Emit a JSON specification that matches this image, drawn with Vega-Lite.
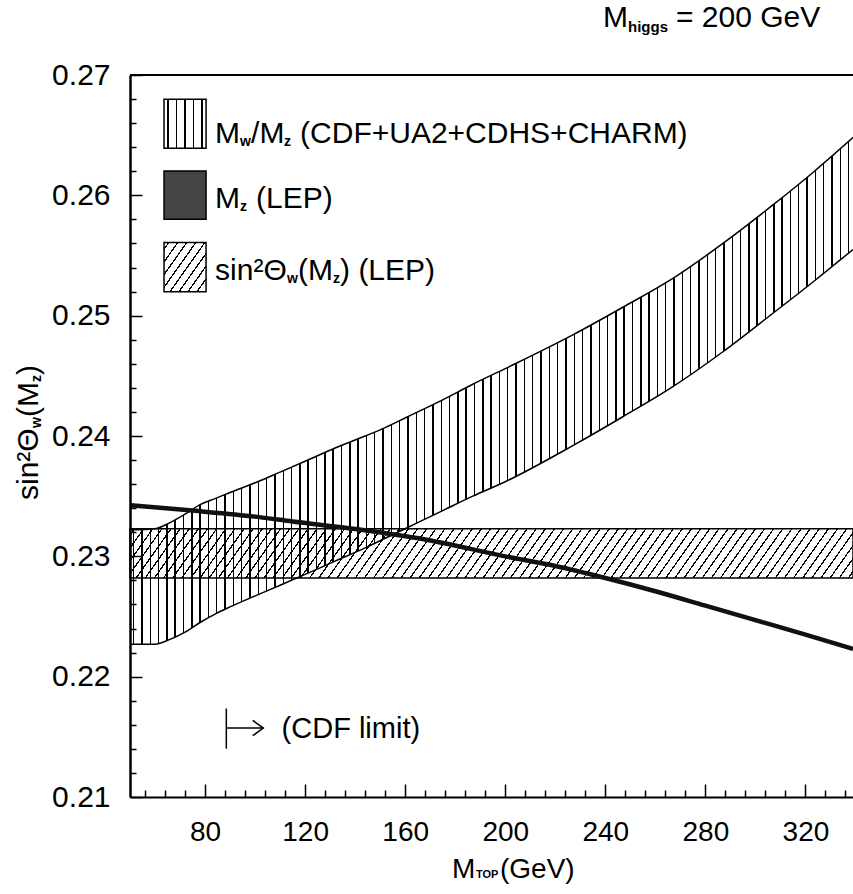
{
"$schema": "https://vega.github.io/schema/vega-lite/v6.json",
"usermeta": {"embedOptions": {"actions": false}},
"width": 723,
"height": 722,
"autosize": {"type": "none"},
"padding": {"left": 130, "top": 75, "right": 0, "bottom": 97},
"background": "white",
"config": {"view": {"stroke": null}, "font": "Liberation Sans"},
"resolve": {"axis": {"x": "independent", "y": "independent"}},
"data": {"values": [{}]},
"datasets": {
"mw": [
{"m":50,"lo":0.2227,"hi":0.2322},{"m":60,"lo":0.2227,"hi":0.2323},{"m":66,"lo":0.2231,"hi":0.2328},{"m":72,"lo":0.2237,"hi":0.2335},{"m":78,"lo":0.2245,"hi":0.2343},{"m":84,"lo":0.2252,"hi":0.2348},{"m":90,"lo":0.2258,"hi":0.2353},{"m":101,"lo":0.2268,"hi":0.2362},{"m":110,"lo":0.2276,"hi":0.2370},{"m":120,"lo":0.2285,"hi":0.2379},{"m":132,"lo":0.2296,"hi":0.2390},{"m":144,"lo":0.2307,"hi":0.2400},{"m":152,"lo":0.2315,"hi":0.2407},{"m":161,"lo":0.2324,"hi":0.2416},{"m":175,"lo":0.2338,"hi":0.2430},{"m":187,"lo":0.2350,"hi":0.2443},{"m":200,"lo":0.2362,"hi":0.2456},{"m":227,"lo":0.2392,"hi":0.2484},{"m":247,"lo":0.2416,"hi":0.2507},{"m":267,"lo":0.2441,"hi":0.2531},{"m":287,"lo":0.2470,"hi":0.2560},{"m":307,"lo":0.2502,"hi":0.2592},{"m":323,"lo":0.2528,"hi":0.2619},{"m":339,"lo":0.2555,"hi":0.2648}
],
"mz": [
{"m":50,"s":0.23425},{"m":75,"s":0.2338},{"m":100,"s":0.2333},{"m":115,"s":0.2329},{"m":141,"s":0.23225},{"m":168,"s":0.2314},{"m":200,"s":0.2300},{"m":220,"s":0.2292},{"m":240,"s":0.2282},{"m":260,"s":0.2271},{"m":280,"s":0.2259},{"m":300,"s":0.2247},{"m":320,"s":0.2235},{"m":339,"s":0.2223}
]
},
"layer": [
{
"data": {"values": [{"m0":50,"m1":339,"lo":0.2282,"hi":0.2323}]},
"mark": {"type":"rect","stroke":"black","strokeWidth":1.5,"fill":{"gradient":"linear","x1":0,"y1":0,"x2":1.05,"y2":0.0508,"stops":[
{"offset":0.005,"color":"rgba(0,0,0,0)"},{"offset":0.005,"color":"#000"},{"offset":0.007,"color":"#000"},{"offset":0.007,"color":"rgba(0,0,0,0)"},
{"offset":0.017,"color":"rgba(0,0,0,0)"},{"offset":0.017,"color":"#000"},{"offset":0.019,"color":"#000"},{"offset":0.019,"color":"rgba(0,0,0,0)"},
{"offset":0.029,"color":"rgba(0,0,0,0)"},{"offset":0.029,"color":"#000"},{"offset":0.031,"color":"#000"},{"offset":0.031,"color":"rgba(0,0,0,0)"},
{"offset":0.041,"color":"rgba(0,0,0,0)"},{"offset":0.041,"color":"#000"},{"offset":0.043,"color":"#000"},{"offset":0.043,"color":"rgba(0,0,0,0)"},
{"offset":0.053,"color":"rgba(0,0,0,0)"},{"offset":0.053,"color":"#000"},{"offset":0.055,"color":"#000"},{"offset":0.055,"color":"rgba(0,0,0,0)"},
{"offset":0.065,"color":"rgba(0,0,0,0)"},{"offset":0.065,"color":"#000"},{"offset":0.067,"color":"#000"},{"offset":0.067,"color":"rgba(0,0,0,0)"},
{"offset":0.077,"color":"rgba(0,0,0,0)"},{"offset":0.077,"color":"#000"},{"offset":0.079,"color":"#000"},{"offset":0.079,"color":"rgba(0,0,0,0)"},
{"offset":0.089,"color":"rgba(0,0,0,0)"},{"offset":0.089,"color":"#000"},{"offset":0.091,"color":"#000"},{"offset":0.091,"color":"rgba(0,0,0,0)"},
{"offset":0.101,"color":"rgba(0,0,0,0)"},{"offset":0.101,"color":"#000"},{"offset":0.103,"color":"#000"},{"offset":0.103,"color":"rgba(0,0,0,0)"},
{"offset":0.113,"color":"rgba(0,0,0,0)"},{"offset":0.113,"color":"#000"},{"offset":0.115,"color":"#000"},{"offset":0.115,"color":"rgba(0,0,0,0)"},
{"offset":0.125,"color":"rgba(0,0,0,0)"},{"offset":0.125,"color":"#000"},{"offset":0.127,"color":"#000"},{"offset":0.127,"color":"rgba(0,0,0,0)"},
{"offset":0.137,"color":"rgba(0,0,0,0)"},{"offset":0.137,"color":"#000"},{"offset":0.139,"color":"#000"},{"offset":0.139,"color":"rgba(0,0,0,0)"},
{"offset":0.149,"color":"rgba(0,0,0,0)"},{"offset":0.149,"color":"#000"},{"offset":0.151,"color":"#000"},{"offset":0.151,"color":"rgba(0,0,0,0)"},
{"offset":0.161,"color":"rgba(0,0,0,0)"},{"offset":0.161,"color":"#000"},{"offset":0.163,"color":"#000"},{"offset":0.163,"color":"rgba(0,0,0,0)"},
{"offset":0.173,"color":"rgba(0,0,0,0)"},{"offset":0.173,"color":"#000"},{"offset":0.175,"color":"#000"},{"offset":0.175,"color":"rgba(0,0,0,0)"},
{"offset":0.185,"color":"rgba(0,0,0,0)"},{"offset":0.185,"color":"#000"},{"offset":0.187,"color":"#000"},{"offset":0.187,"color":"rgba(0,0,0,0)"},
{"offset":0.197,"color":"rgba(0,0,0,0)"},{"offset":0.197,"color":"#000"},{"offset":0.199,"color":"#000"},{"offset":0.199,"color":"rgba(0,0,0,0)"},
{"offset":0.209,"color":"rgba(0,0,0,0)"},{"offset":0.209,"color":"#000"},{"offset":0.211,"color":"#000"},{"offset":0.211,"color":"rgba(0,0,0,0)"},
{"offset":0.221,"color":"rgba(0,0,0,0)"},{"offset":0.221,"color":"#000"},{"offset":0.223,"color":"#000"},{"offset":0.223,"color":"rgba(0,0,0,0)"},
{"offset":0.233,"color":"rgba(0,0,0,0)"},{"offset":0.233,"color":"#000"},{"offset":0.235,"color":"#000"},{"offset":0.235,"color":"rgba(0,0,0,0)"},
{"offset":0.245,"color":"rgba(0,0,0,0)"},{"offset":0.245,"color":"#000"},{"offset":0.247,"color":"#000"},{"offset":0.247,"color":"rgba(0,0,0,0)"},
{"offset":0.257,"color":"rgba(0,0,0,0)"},{"offset":0.257,"color":"#000"},{"offset":0.259,"color":"#000"},{"offset":0.259,"color":"rgba(0,0,0,0)"},
{"offset":0.269,"color":"rgba(0,0,0,0)"},{"offset":0.269,"color":"#000"},{"offset":0.271,"color":"#000"},{"offset":0.271,"color":"rgba(0,0,0,0)"},
{"offset":0.281,"color":"rgba(0,0,0,0)"},{"offset":0.281,"color":"#000"},{"offset":0.283,"color":"#000"},{"offset":0.283,"color":"rgba(0,0,0,0)"},
{"offset":0.293,"color":"rgba(0,0,0,0)"},{"offset":0.293,"color":"#000"},{"offset":0.295,"color":"#000"},{"offset":0.295,"color":"rgba(0,0,0,0)"},
{"offset":0.305,"color":"rgba(0,0,0,0)"},{"offset":0.305,"color":"#000"},{"offset":0.307,"color":"#000"},{"offset":0.307,"color":"rgba(0,0,0,0)"},
{"offset":0.317,"color":"rgba(0,0,0,0)"},{"offset":0.317,"color":"#000"},{"offset":0.319,"color":"#000"},{"offset":0.319,"color":"rgba(0,0,0,0)"},
{"offset":0.329,"color":"rgba(0,0,0,0)"},{"offset":0.329,"color":"#000"},{"offset":0.331,"color":"#000"},{"offset":0.331,"color":"rgba(0,0,0,0)"},
{"offset":0.341,"color":"rgba(0,0,0,0)"},{"offset":0.341,"color":"#000"},{"offset":0.343,"color":"#000"},{"offset":0.343,"color":"rgba(0,0,0,0)"},
{"offset":0.353,"color":"rgba(0,0,0,0)"},{"offset":0.353,"color":"#000"},{"offset":0.355,"color":"#000"},{"offset":0.355,"color":"rgba(0,0,0,0)"},
{"offset":0.365,"color":"rgba(0,0,0,0)"},{"offset":0.365,"color":"#000"},{"offset":0.367,"color":"#000"},{"offset":0.367,"color":"rgba(0,0,0,0)"},
{"offset":0.377,"color":"rgba(0,0,0,0)"},{"offset":0.377,"color":"#000"},{"offset":0.379,"color":"#000"},{"offset":0.379,"color":"rgba(0,0,0,0)"},
{"offset":0.389,"color":"rgba(0,0,0,0)"},{"offset":0.389,"color":"#000"},{"offset":0.391,"color":"#000"},{"offset":0.391,"color":"rgba(0,0,0,0)"},
{"offset":0.401,"color":"rgba(0,0,0,0)"},{"offset":0.401,"color":"#000"},{"offset":0.403,"color":"#000"},{"offset":0.403,"color":"rgba(0,0,0,0)"},
{"offset":0.413,"color":"rgba(0,0,0,0)"},{"offset":0.413,"color":"#000"},{"offset":0.415,"color":"#000"},{"offset":0.415,"color":"rgba(0,0,0,0)"},
{"offset":0.425,"color":"rgba(0,0,0,0)"},{"offset":0.425,"color":"#000"},{"offset":0.427,"color":"#000"},{"offset":0.427,"color":"rgba(0,0,0,0)"},
{"offset":0.437,"color":"rgba(0,0,0,0)"},{"offset":0.437,"color":"#000"},{"offset":0.439,"color":"#000"},{"offset":0.439,"color":"rgba(0,0,0,0)"},
{"offset":0.449,"color":"rgba(0,0,0,0)"},{"offset":0.449,"color":"#000"},{"offset":0.451,"color":"#000"},{"offset":0.451,"color":"rgba(0,0,0,0)"},
{"offset":0.461,"color":"rgba(0,0,0,0)"},{"offset":0.461,"color":"#000"},{"offset":0.463,"color":"#000"},{"offset":0.463,"color":"rgba(0,0,0,0)"},
{"offset":0.473,"color":"rgba(0,0,0,0)"},{"offset":0.473,"color":"#000"},{"offset":0.475,"color":"#000"},{"offset":0.475,"color":"rgba(0,0,0,0)"},
{"offset":0.485,"color":"rgba(0,0,0,0)"},{"offset":0.485,"color":"#000"},{"offset":0.487,"color":"#000"},{"offset":0.487,"color":"rgba(0,0,0,0)"},
{"offset":0.497,"color":"rgba(0,0,0,0)"},{"offset":0.497,"color":"#000"},{"offset":0.499,"color":"#000"},{"offset":0.499,"color":"rgba(0,0,0,0)"},
{"offset":0.509,"color":"rgba(0,0,0,0)"},{"offset":0.509,"color":"#000"},{"offset":0.511,"color":"#000"},{"offset":0.511,"color":"rgba(0,0,0,0)"},
{"offset":0.521,"color":"rgba(0,0,0,0)"},{"offset":0.521,"color":"#000"},{"offset":0.523,"color":"#000"},{"offset":0.523,"color":"rgba(0,0,0,0)"},
{"offset":0.533,"color":"rgba(0,0,0,0)"},{"offset":0.533,"color":"#000"},{"offset":0.535,"color":"#000"},{"offset":0.535,"color":"rgba(0,0,0,0)"},
{"offset":0.545,"color":"rgba(0,0,0,0)"},{"offset":0.545,"color":"#000"},{"offset":0.547,"color":"#000"},{"offset":0.547,"color":"rgba(0,0,0,0)"},
{"offset":0.557,"color":"rgba(0,0,0,0)"},{"offset":0.557,"color":"#000"},{"offset":0.559,"color":"#000"},{"offset":0.559,"color":"rgba(0,0,0,0)"},
{"offset":0.569,"color":"rgba(0,0,0,0)"},{"offset":0.569,"color":"#000"},{"offset":0.571,"color":"#000"},{"offset":0.571,"color":"rgba(0,0,0,0)"},
{"offset":0.581,"color":"rgba(0,0,0,0)"},{"offset":0.581,"color":"#000"},{"offset":0.583,"color":"#000"},{"offset":0.583,"color":"rgba(0,0,0,0)"},
{"offset":0.593,"color":"rgba(0,0,0,0)"},{"offset":0.593,"color":"#000"},{"offset":0.595,"color":"#000"},{"offset":0.595,"color":"rgba(0,0,0,0)"},
{"offset":0.605,"color":"rgba(0,0,0,0)"},{"offset":0.605,"color":"#000"},{"offset":0.607,"color":"#000"},{"offset":0.607,"color":"rgba(0,0,0,0)"},
{"offset":0.617,"color":"rgba(0,0,0,0)"},{"offset":0.617,"color":"#000"},{"offset":0.619,"color":"#000"},{"offset":0.619,"color":"rgba(0,0,0,0)"},
{"offset":0.629,"color":"rgba(0,0,0,0)"},{"offset":0.629,"color":"#000"},{"offset":0.631,"color":"#000"},{"offset":0.631,"color":"rgba(0,0,0,0)"},
{"offset":0.641,"color":"rgba(0,0,0,0)"},{"offset":0.641,"color":"#000"},{"offset":0.643,"color":"#000"},{"offset":0.643,"color":"rgba(0,0,0,0)"},
{"offset":0.653,"color":"rgba(0,0,0,0)"},{"offset":0.653,"color":"#000"},{"offset":0.655,"color":"#000"},{"offset":0.655,"color":"rgba(0,0,0,0)"},
{"offset":0.665,"color":"rgba(0,0,0,0)"},{"offset":0.665,"color":"#000"},{"offset":0.667,"color":"#000"},{"offset":0.667,"color":"rgba(0,0,0,0)"},
{"offset":0.677,"color":"rgba(0,0,0,0)"},{"offset":0.677,"color":"#000"},{"offset":0.679,"color":"#000"},{"offset":0.679,"color":"rgba(0,0,0,0)"},
{"offset":0.689,"color":"rgba(0,0,0,0)"},{"offset":0.689,"color":"#000"},{"offset":0.691,"color":"#000"},{"offset":0.691,"color":"rgba(0,0,0,0)"},
{"offset":0.701,"color":"rgba(0,0,0,0)"},{"offset":0.701,"color":"#000"},{"offset":0.703,"color":"#000"},{"offset":0.703,"color":"rgba(0,0,0,0)"},
{"offset":0.713,"color":"rgba(0,0,0,0)"},{"offset":0.713,"color":"#000"},{"offset":0.715,"color":"#000"},{"offset":0.715,"color":"rgba(0,0,0,0)"},
{"offset":0.725,"color":"rgba(0,0,0,0)"},{"offset":0.725,"color":"#000"},{"offset":0.727,"color":"#000"},{"offset":0.727,"color":"rgba(0,0,0,0)"},
{"offset":0.737,"color":"rgba(0,0,0,0)"},{"offset":0.737,"color":"#000"},{"offset":0.739,"color":"#000"},{"offset":0.739,"color":"rgba(0,0,0,0)"},
{"offset":0.749,"color":"rgba(0,0,0,0)"},{"offset":0.749,"color":"#000"},{"offset":0.751,"color":"#000"},{"offset":0.751,"color":"rgba(0,0,0,0)"},
{"offset":0.761,"color":"rgba(0,0,0,0)"},{"offset":0.761,"color":"#000"},{"offset":0.763,"color":"#000"},{"offset":0.763,"color":"rgba(0,0,0,0)"},
{"offset":0.773,"color":"rgba(0,0,0,0)"},{"offset":0.773,"color":"#000"},{"offset":0.775,"color":"#000"},{"offset":0.775,"color":"rgba(0,0,0,0)"},
{"offset":0.785,"color":"rgba(0,0,0,0)"},{"offset":0.785,"color":"#000"},{"offset":0.787,"color":"#000"},{"offset":0.787,"color":"rgba(0,0,0,0)"},
{"offset":0.797,"color":"rgba(0,0,0,0)"},{"offset":0.797,"color":"#000"},{"offset":0.799,"color":"#000"},{"offset":0.799,"color":"rgba(0,0,0,0)"},
{"offset":0.809,"color":"rgba(0,0,0,0)"},{"offset":0.809,"color":"#000"},{"offset":0.811,"color":"#000"},{"offset":0.811,"color":"rgba(0,0,0,0)"},
{"offset":0.821,"color":"rgba(0,0,0,0)"},{"offset":0.821,"color":"#000"},{"offset":0.823,"color":"#000"},{"offset":0.823,"color":"rgba(0,0,0,0)"},
{"offset":0.833,"color":"rgba(0,0,0,0)"},{"offset":0.833,"color":"#000"},{"offset":0.835,"color":"#000"},{"offset":0.835,"color":"rgba(0,0,0,0)"},
{"offset":0.845,"color":"rgba(0,0,0,0)"},{"offset":0.845,"color":"#000"},{"offset":0.847,"color":"#000"},{"offset":0.847,"color":"rgba(0,0,0,0)"},
{"offset":0.857,"color":"rgba(0,0,0,0)"},{"offset":0.857,"color":"#000"},{"offset":0.859,"color":"#000"},{"offset":0.859,"color":"rgba(0,0,0,0)"},
{"offset":0.869,"color":"rgba(0,0,0,0)"},{"offset":0.869,"color":"#000"},{"offset":0.871,"color":"#000"},{"offset":0.871,"color":"rgba(0,0,0,0)"},
{"offset":0.881,"color":"rgba(0,0,0,0)"},{"offset":0.881,"color":"#000"},{"offset":0.883,"color":"#000"},{"offset":0.883,"color":"rgba(0,0,0,0)"},
{"offset":0.893,"color":"rgba(0,0,0,0)"},{"offset":0.893,"color":"#000"},{"offset":0.895,"color":"#000"},{"offset":0.895,"color":"rgba(0,0,0,0)"},
{"offset":0.905,"color":"rgba(0,0,0,0)"},{"offset":0.905,"color":"#000"},{"offset":0.907,"color":"#000"},{"offset":0.907,"color":"rgba(0,0,0,0)"},
{"offset":0.917,"color":"rgba(0,0,0,0)"},{"offset":0.917,"color":"#000"},{"offset":0.919,"color":"#000"},{"offset":0.919,"color":"rgba(0,0,0,0)"},
{"offset":0.929,"color":"rgba(0,0,0,0)"},{"offset":0.929,"color":"#000"},{"offset":0.931,"color":"#000"},{"offset":0.931,"color":"rgba(0,0,0,0)"},
{"offset":0.941,"color":"rgba(0,0,0,0)"},{"offset":0.941,"color":"#000"},{"offset":0.943,"color":"#000"},{"offset":0.943,"color":"rgba(0,0,0,0)"},
{"offset":0.953,"color":"rgba(0,0,0,0)"},{"offset":0.953,"color":"#000"},{"offset":0.955,"color":"#000"},{"offset":0.955,"color":"rgba(0,0,0,0)"},
{"offset":0.965,"color":"rgba(0,0,0,0)"},{"offset":0.965,"color":"#000"},{"offset":0.967,"color":"#000"},{"offset":0.967,"color":"rgba(0,0,0,0)"},
{"offset":0.977,"color":"rgba(0,0,0,0)"},{"offset":0.977,"color":"#000"},{"offset":0.979,"color":"#000"},{"offset":0.979,"color":"rgba(0,0,0,0)"},
{"offset":0.989,"color":"rgba(0,0,0,0)"},{"offset":0.989,"color":"#000"},{"offset":0.991,"color":"#000"},{"offset":0.991,"color":"rgba(0,0,0,0)"}
]}},
"encoding": {
"x": {"field":"m0","type":"quantitative","scale":{"domain":[50,339],"nice":false,"zero":false},
 "axis":{"orient":"bottom","title":null,"grid":false,"zindex":1,"domainColor":"black","domainWidth":2,"ticks":false,
 "values":[80,120,160,200,240,280,320],
 "labelFont":"Liberation Sans","labelFontSize":28,"labelColor":"black","labelPadding":21,"labelOverlap":false,"labelFlush":false}},
"x2": {"field":"m1"},
"y": {"field":"lo","type":"quantitative","scale":{"domain":[0.21,0.27],"nice":false,"zero":false},
 "axis":{"orient":"left","title":null,"grid":false,"zindex":1,"domainColor":"black","domainWidth":2.5,"ticks":false,
 "values":[0.21,0.22,0.23,0.24,0.25,0.26,0.27],"format":".2f",
 "labelFont":"Liberation Sans","labelFontSize":30,"labelColor":"black","labelPadding":20,"labelOverlap":false,"labelFlush":false}},
"y2": {"field":"hi"}
}
},
{
"data": {"name":"mw"},
"mark": {"type":"area","interpolate":"monotone","fill":{"gradient":"linear","x1":0,"y1":0,"x2":1,"y2":0,"stops":[
{"offset":0.004,"color":"rgba(0,0,0,0)"},{"offset":0.004,"color":"#000"},{"offset":0.006,"color":"#000"},{"offset":0.006,"color":"rgba(0,0,0,0)"},
{"offset":0.0155,"color":"rgba(0,0,0,0)"},{"offset":0.0155,"color":"#000"},{"offset":0.0175,"color":"#000"},{"offset":0.0175,"color":"rgba(0,0,0,0)"},
{"offset":0.027,"color":"rgba(0,0,0,0)"},{"offset":0.027,"color":"#000"},{"offset":0.029,"color":"#000"},{"offset":0.029,"color":"rgba(0,0,0,0)"},
{"offset":0.0385,"color":"rgba(0,0,0,0)"},{"offset":0.0385,"color":"#000"},{"offset":0.0405,"color":"#000"},{"offset":0.0405,"color":"rgba(0,0,0,0)"},
{"offset":0.05,"color":"rgba(0,0,0,0)"},{"offset":0.05,"color":"#000"},{"offset":0.052,"color":"#000"},{"offset":0.052,"color":"rgba(0,0,0,0)"},
{"offset":0.0615,"color":"rgba(0,0,0,0)"},{"offset":0.0615,"color":"#000"},{"offset":0.0635,"color":"#000"},{"offset":0.0635,"color":"rgba(0,0,0,0)"},
{"offset":0.073,"color":"rgba(0,0,0,0)"},{"offset":0.073,"color":"#000"},{"offset":0.075,"color":"#000"},{"offset":0.075,"color":"rgba(0,0,0,0)"},
{"offset":0.0845,"color":"rgba(0,0,0,0)"},{"offset":0.0845,"color":"#000"},{"offset":0.0865,"color":"#000"},{"offset":0.0865,"color":"rgba(0,0,0,0)"},
{"offset":0.096,"color":"rgba(0,0,0,0)"},{"offset":0.096,"color":"#000"},{"offset":0.098,"color":"#000"},{"offset":0.098,"color":"rgba(0,0,0,0)"},
{"offset":0.1075,"color":"rgba(0,0,0,0)"},{"offset":0.1075,"color":"#000"},{"offset":0.1095,"color":"#000"},{"offset":0.1095,"color":"rgba(0,0,0,0)"},
{"offset":0.119,"color":"rgba(0,0,0,0)"},{"offset":0.119,"color":"#000"},{"offset":0.121,"color":"#000"},{"offset":0.121,"color":"rgba(0,0,0,0)"},
{"offset":0.1305,"color":"rgba(0,0,0,0)"},{"offset":0.1305,"color":"#000"},{"offset":0.1325,"color":"#000"},{"offset":0.1325,"color":"rgba(0,0,0,0)"},
{"offset":0.142,"color":"rgba(0,0,0,0)"},{"offset":0.142,"color":"#000"},{"offset":0.144,"color":"#000"},{"offset":0.144,"color":"rgba(0,0,0,0)"},
{"offset":0.1535,"color":"rgba(0,0,0,0)"},{"offset":0.1535,"color":"#000"},{"offset":0.1555,"color":"#000"},{"offset":0.1555,"color":"rgba(0,0,0,0)"},
{"offset":0.165,"color":"rgba(0,0,0,0)"},{"offset":0.165,"color":"#000"},{"offset":0.167,"color":"#000"},{"offset":0.167,"color":"rgba(0,0,0,0)"},
{"offset":0.1765,"color":"rgba(0,0,0,0)"},{"offset":0.1765,"color":"#000"},{"offset":0.1785,"color":"#000"},{"offset":0.1785,"color":"rgba(0,0,0,0)"},
{"offset":0.188,"color":"rgba(0,0,0,0)"},{"offset":0.188,"color":"#000"},{"offset":0.19,"color":"#000"},{"offset":0.19,"color":"rgba(0,0,0,0)"},
{"offset":0.1995,"color":"rgba(0,0,0,0)"},{"offset":0.1995,"color":"#000"},{"offset":0.2015,"color":"#000"},{"offset":0.2015,"color":"rgba(0,0,0,0)"},
{"offset":0.211,"color":"rgba(0,0,0,0)"},{"offset":0.211,"color":"#000"},{"offset":0.213,"color":"#000"},{"offset":0.213,"color":"rgba(0,0,0,0)"},
{"offset":0.2225,"color":"rgba(0,0,0,0)"},{"offset":0.2225,"color":"#000"},{"offset":0.2245,"color":"#000"},{"offset":0.2245,"color":"rgba(0,0,0,0)"},
{"offset":0.234,"color":"rgba(0,0,0,0)"},{"offset":0.234,"color":"#000"},{"offset":0.236,"color":"#000"},{"offset":0.236,"color":"rgba(0,0,0,0)"},
{"offset":0.2455,"color":"rgba(0,0,0,0)"},{"offset":0.2455,"color":"#000"},{"offset":0.2475,"color":"#000"},{"offset":0.2475,"color":"rgba(0,0,0,0)"},
{"offset":0.257,"color":"rgba(0,0,0,0)"},{"offset":0.257,"color":"#000"},{"offset":0.259,"color":"#000"},{"offset":0.259,"color":"rgba(0,0,0,0)"},
{"offset":0.2685,"color":"rgba(0,0,0,0)"},{"offset":0.2685,"color":"#000"},{"offset":0.2705,"color":"#000"},{"offset":0.2705,"color":"rgba(0,0,0,0)"},
{"offset":0.28,"color":"rgba(0,0,0,0)"},{"offset":0.28,"color":"#000"},{"offset":0.282,"color":"#000"},{"offset":0.282,"color":"rgba(0,0,0,0)"},
{"offset":0.2915,"color":"rgba(0,0,0,0)"},{"offset":0.2915,"color":"#000"},{"offset":0.2935,"color":"#000"},{"offset":0.2935,"color":"rgba(0,0,0,0)"},
{"offset":0.303,"color":"rgba(0,0,0,0)"},{"offset":0.303,"color":"#000"},{"offset":0.305,"color":"#000"},{"offset":0.305,"color":"rgba(0,0,0,0)"},
{"offset":0.3145,"color":"rgba(0,0,0,0)"},{"offset":0.3145,"color":"#000"},{"offset":0.3165,"color":"#000"},{"offset":0.3165,"color":"rgba(0,0,0,0)"},
{"offset":0.326,"color":"rgba(0,0,0,0)"},{"offset":0.326,"color":"#000"},{"offset":0.328,"color":"#000"},{"offset":0.328,"color":"rgba(0,0,0,0)"},
{"offset":0.3375,"color":"rgba(0,0,0,0)"},{"offset":0.3375,"color":"#000"},{"offset":0.3395,"color":"#000"},{"offset":0.3395,"color":"rgba(0,0,0,0)"},
{"offset":0.349,"color":"rgba(0,0,0,0)"},{"offset":0.349,"color":"#000"},{"offset":0.351,"color":"#000"},{"offset":0.351,"color":"rgba(0,0,0,0)"},
{"offset":0.3605,"color":"rgba(0,0,0,0)"},{"offset":0.3605,"color":"#000"},{"offset":0.3625,"color":"#000"},{"offset":0.3625,"color":"rgba(0,0,0,0)"},
{"offset":0.372,"color":"rgba(0,0,0,0)"},{"offset":0.372,"color":"#000"},{"offset":0.374,"color":"#000"},{"offset":0.374,"color":"rgba(0,0,0,0)"},
{"offset":0.3835,"color":"rgba(0,0,0,0)"},{"offset":0.3835,"color":"#000"},{"offset":0.3855,"color":"#000"},{"offset":0.3855,"color":"rgba(0,0,0,0)"},
{"offset":0.395,"color":"rgba(0,0,0,0)"},{"offset":0.395,"color":"#000"},{"offset":0.397,"color":"#000"},{"offset":0.397,"color":"rgba(0,0,0,0)"},
{"offset":0.4065,"color":"rgba(0,0,0,0)"},{"offset":0.4065,"color":"#000"},{"offset":0.4085,"color":"#000"},{"offset":0.4085,"color":"rgba(0,0,0,0)"},
{"offset":0.418,"color":"rgba(0,0,0,0)"},{"offset":0.418,"color":"#000"},{"offset":0.42,"color":"#000"},{"offset":0.42,"color":"rgba(0,0,0,0)"},
{"offset":0.4295,"color":"rgba(0,0,0,0)"},{"offset":0.4295,"color":"#000"},{"offset":0.4315,"color":"#000"},{"offset":0.4315,"color":"rgba(0,0,0,0)"},
{"offset":0.441,"color":"rgba(0,0,0,0)"},{"offset":0.441,"color":"#000"},{"offset":0.443,"color":"#000"},{"offset":0.443,"color":"rgba(0,0,0,0)"},
{"offset":0.4525,"color":"rgba(0,0,0,0)"},{"offset":0.4525,"color":"#000"},{"offset":0.4545,"color":"#000"},{"offset":0.4545,"color":"rgba(0,0,0,0)"},
{"offset":0.464,"color":"rgba(0,0,0,0)"},{"offset":0.464,"color":"#000"},{"offset":0.466,"color":"#000"},{"offset":0.466,"color":"rgba(0,0,0,0)"},
{"offset":0.4755,"color":"rgba(0,0,0,0)"},{"offset":0.4755,"color":"#000"},{"offset":0.4775,"color":"#000"},{"offset":0.4775,"color":"rgba(0,0,0,0)"},
{"offset":0.487,"color":"rgba(0,0,0,0)"},{"offset":0.487,"color":"#000"},{"offset":0.489,"color":"#000"},{"offset":0.489,"color":"rgba(0,0,0,0)"},
{"offset":0.4985,"color":"rgba(0,0,0,0)"},{"offset":0.4985,"color":"#000"},{"offset":0.5005,"color":"#000"},{"offset":0.5005,"color":"rgba(0,0,0,0)"},
{"offset":0.51,"color":"rgba(0,0,0,0)"},{"offset":0.51,"color":"#000"},{"offset":0.512,"color":"#000"},{"offset":0.512,"color":"rgba(0,0,0,0)"},
{"offset":0.5215,"color":"rgba(0,0,0,0)"},{"offset":0.5215,"color":"#000"},{"offset":0.5235,"color":"#000"},{"offset":0.5235,"color":"rgba(0,0,0,0)"},
{"offset":0.533,"color":"rgba(0,0,0,0)"},{"offset":0.533,"color":"#000"},{"offset":0.535,"color":"#000"},{"offset":0.535,"color":"rgba(0,0,0,0)"},
{"offset":0.5445,"color":"rgba(0,0,0,0)"},{"offset":0.5445,"color":"#000"},{"offset":0.5465,"color":"#000"},{"offset":0.5465,"color":"rgba(0,0,0,0)"},
{"offset":0.556,"color":"rgba(0,0,0,0)"},{"offset":0.556,"color":"#000"},{"offset":0.558,"color":"#000"},{"offset":0.558,"color":"rgba(0,0,0,0)"},
{"offset":0.5675,"color":"rgba(0,0,0,0)"},{"offset":0.5675,"color":"#000"},{"offset":0.5695,"color":"#000"},{"offset":0.5695,"color":"rgba(0,0,0,0)"},
{"offset":0.579,"color":"rgba(0,0,0,0)"},{"offset":0.579,"color":"#000"},{"offset":0.581,"color":"#000"},{"offset":0.581,"color":"rgba(0,0,0,0)"},
{"offset":0.5905,"color":"rgba(0,0,0,0)"},{"offset":0.5905,"color":"#000"},{"offset":0.5925,"color":"#000"},{"offset":0.5925,"color":"rgba(0,0,0,0)"},
{"offset":0.602,"color":"rgba(0,0,0,0)"},{"offset":0.602,"color":"#000"},{"offset":0.604,"color":"#000"},{"offset":0.604,"color":"rgba(0,0,0,0)"},
{"offset":0.6135,"color":"rgba(0,0,0,0)"},{"offset":0.6135,"color":"#000"},{"offset":0.6155,"color":"#000"},{"offset":0.6155,"color":"rgba(0,0,0,0)"},
{"offset":0.625,"color":"rgba(0,0,0,0)"},{"offset":0.625,"color":"#000"},{"offset":0.627,"color":"#000"},{"offset":0.627,"color":"rgba(0,0,0,0)"},
{"offset":0.6365,"color":"rgba(0,0,0,0)"},{"offset":0.6365,"color":"#000"},{"offset":0.6385,"color":"#000"},{"offset":0.6385,"color":"rgba(0,0,0,0)"},
{"offset":0.648,"color":"rgba(0,0,0,0)"},{"offset":0.648,"color":"#000"},{"offset":0.65,"color":"#000"},{"offset":0.65,"color":"rgba(0,0,0,0)"},
{"offset":0.6595,"color":"rgba(0,0,0,0)"},{"offset":0.6595,"color":"#000"},{"offset":0.6615,"color":"#000"},{"offset":0.6615,"color":"rgba(0,0,0,0)"},
{"offset":0.671,"color":"rgba(0,0,0,0)"},{"offset":0.671,"color":"#000"},{"offset":0.673,"color":"#000"},{"offset":0.673,"color":"rgba(0,0,0,0)"},
{"offset":0.6825,"color":"rgba(0,0,0,0)"},{"offset":0.6825,"color":"#000"},{"offset":0.6845,"color":"#000"},{"offset":0.6845,"color":"rgba(0,0,0,0)"},
{"offset":0.694,"color":"rgba(0,0,0,0)"},{"offset":0.694,"color":"#000"},{"offset":0.696,"color":"#000"},{"offset":0.696,"color":"rgba(0,0,0,0)"},
{"offset":0.7055,"color":"rgba(0,0,0,0)"},{"offset":0.7055,"color":"#000"},{"offset":0.7075,"color":"#000"},{"offset":0.7075,"color":"rgba(0,0,0,0)"},
{"offset":0.717,"color":"rgba(0,0,0,0)"},{"offset":0.717,"color":"#000"},{"offset":0.719,"color":"#000"},{"offset":0.719,"color":"rgba(0,0,0,0)"},
{"offset":0.7285,"color":"rgba(0,0,0,0)"},{"offset":0.7285,"color":"#000"},{"offset":0.7305,"color":"#000"},{"offset":0.7305,"color":"rgba(0,0,0,0)"},
{"offset":0.74,"color":"rgba(0,0,0,0)"},{"offset":0.74,"color":"#000"},{"offset":0.742,"color":"#000"},{"offset":0.742,"color":"rgba(0,0,0,0)"},
{"offset":0.7515,"color":"rgba(0,0,0,0)"},{"offset":0.7515,"color":"#000"},{"offset":0.7535,"color":"#000"},{"offset":0.7535,"color":"rgba(0,0,0,0)"},
{"offset":0.763,"color":"rgba(0,0,0,0)"},{"offset":0.763,"color":"#000"},{"offset":0.765,"color":"#000"},{"offset":0.765,"color":"rgba(0,0,0,0)"},
{"offset":0.7745,"color":"rgba(0,0,0,0)"},{"offset":0.7745,"color":"#000"},{"offset":0.7765,"color":"#000"},{"offset":0.7765,"color":"rgba(0,0,0,0)"},
{"offset":0.786,"color":"rgba(0,0,0,0)"},{"offset":0.786,"color":"#000"},{"offset":0.788,"color":"#000"},{"offset":0.788,"color":"rgba(0,0,0,0)"},
{"offset":0.7975,"color":"rgba(0,0,0,0)"},{"offset":0.7975,"color":"#000"},{"offset":0.7995,"color":"#000"},{"offset":0.7995,"color":"rgba(0,0,0,0)"},
{"offset":0.809,"color":"rgba(0,0,0,0)"},{"offset":0.809,"color":"#000"},{"offset":0.811,"color":"#000"},{"offset":0.811,"color":"rgba(0,0,0,0)"},
{"offset":0.8205,"color":"rgba(0,0,0,0)"},{"offset":0.8205,"color":"#000"},{"offset":0.8225,"color":"#000"},{"offset":0.8225,"color":"rgba(0,0,0,0)"},
{"offset":0.832,"color":"rgba(0,0,0,0)"},{"offset":0.832,"color":"#000"},{"offset":0.834,"color":"#000"},{"offset":0.834,"color":"rgba(0,0,0,0)"},
{"offset":0.8435,"color":"rgba(0,0,0,0)"},{"offset":0.8435,"color":"#000"},{"offset":0.8455,"color":"#000"},{"offset":0.8455,"color":"rgba(0,0,0,0)"},
{"offset":0.855,"color":"rgba(0,0,0,0)"},{"offset":0.855,"color":"#000"},{"offset":0.857,"color":"#000"},{"offset":0.857,"color":"rgba(0,0,0,0)"},
{"offset":0.8665,"color":"rgba(0,0,0,0)"},{"offset":0.8665,"color":"#000"},{"offset":0.8685,"color":"#000"},{"offset":0.8685,"color":"rgba(0,0,0,0)"},
{"offset":0.878,"color":"rgba(0,0,0,0)"},{"offset":0.878,"color":"#000"},{"offset":0.88,"color":"#000"},{"offset":0.88,"color":"rgba(0,0,0,0)"},
{"offset":0.8895,"color":"rgba(0,0,0,0)"},{"offset":0.8895,"color":"#000"},{"offset":0.8915,"color":"#000"},{"offset":0.8915,"color":"rgba(0,0,0,0)"},
{"offset":0.901,"color":"rgba(0,0,0,0)"},{"offset":0.901,"color":"#000"},{"offset":0.903,"color":"#000"},{"offset":0.903,"color":"rgba(0,0,0,0)"},
{"offset":0.9125,"color":"rgba(0,0,0,0)"},{"offset":0.9125,"color":"#000"},{"offset":0.9145,"color":"#000"},{"offset":0.9145,"color":"rgba(0,0,0,0)"},
{"offset":0.924,"color":"rgba(0,0,0,0)"},{"offset":0.924,"color":"#000"},{"offset":0.926,"color":"#000"},{"offset":0.926,"color":"rgba(0,0,0,0)"},
{"offset":0.9355,"color":"rgba(0,0,0,0)"},{"offset":0.9355,"color":"#000"},{"offset":0.9375,"color":"#000"},{"offset":0.9375,"color":"rgba(0,0,0,0)"},
{"offset":0.947,"color":"rgba(0,0,0,0)"},{"offset":0.947,"color":"#000"},{"offset":0.949,"color":"#000"},{"offset":0.949,"color":"rgba(0,0,0,0)"},
{"offset":0.9585,"color":"rgba(0,0,0,0)"},{"offset":0.9585,"color":"#000"},{"offset":0.9605,"color":"#000"},{"offset":0.9605,"color":"rgba(0,0,0,0)"},
{"offset":0.97,"color":"rgba(0,0,0,0)"},{"offset":0.97,"color":"#000"},{"offset":0.972,"color":"#000"},{"offset":0.972,"color":"rgba(0,0,0,0)"},
{"offset":0.9815,"color":"rgba(0,0,0,0)"},{"offset":0.9815,"color":"#000"},{"offset":0.9835,"color":"#000"},{"offset":0.9835,"color":"rgba(0,0,0,0)"},
{"offset":0.993,"color":"rgba(0,0,0,0)"},{"offset":0.993,"color":"#000"},{"offset":0.995,"color":"#000"},{"offset":0.995,"color":"rgba(0,0,0,0)"}
]}},
"encoding": {
"x":{"field":"m","type":"quantitative","axis":{"orient":"bottom","title":null,"grid":false,"zindex":1,"domain":false,"labels":false,"tickColor":"black","tickWidth":1.5,"tickSize":13,"offset":-13,
 "values":[80,120,160,200,240,280,320]}},
"y":{"field":"lo","type":"quantitative","axis":{"orient":"left","title":null,"grid":false,"zindex":1,"domain":false,"labels":false,"tickColor":"black","tickWidth":1.5,"tickSize":12,"offset":-12,
 "values":[0.21,0.22,0.23,0.24,0.25,0.26,0.27]}},
"y2":{"field":"hi"}}
},
{"data":{"name":"mw"},"mark":{"type":"line","interpolate":"monotone","color":"black","strokeWidth":1.5},
 "encoding":{
 "x":{"field":"m","type":"quantitative","axis":{"orient":"bottom","title":null,"grid":false,"zindex":1,"domain":false,"labels":false,"tickColor":"black","tickWidth":1.5,"tickSize":7,"offset":-7,
  "values":[56,64,72,88,96,104,112,128,136,144,152,168,176,184,192,208,216,224,232,248,256,264,272,288,296,304,312,328,336]}},
 "y":{"field":"lo","type":"quantitative","axis":{"orient":"left","title":null,"grid":false,"zindex":1,"domain":false,"labels":false,"tickColor":"black","tickWidth":1.5,"tickSize":6,"offset":-6,
  "values":[0.212,0.214,0.216,0.218,0.222,0.224,0.226,0.228,0.232,0.234,0.236,0.238,0.242,0.244,0.246,0.248,0.252,0.254,0.256,0.258,0.262,0.264,0.266,0.268]}}}},
{"data":{"name":"mw"},"mark":{"type":"line","interpolate":"monotone","color":"black","strokeWidth":1.5},
 "encoding":{"x":{"field":"m","type":"quantitative","axis":null},"y":{"field":"hi","type":"quantitative","axis":null}}},
{"data":{"name":"mz"},"mark":{"type":"line","interpolate":"monotone","color":"#111","strokeWidth":4.5},
 "encoding":{"x":{"field":"m","type":"quantitative","axis":null},"y":{"field":"s","type":"quantitative","axis":null}}},
{"mark":{"type":"rule","color":"black","strokeWidth":2},
 "encoding":{"x":{"datum":50,"axis":null},"x2":{"datum":339},"y":{"datum":0.27,"axis":null}}},
{"mark":{"type":"rule","color":"black","strokeWidth":1.5},
 "encoding":{"x":{"datum":88.5,"axis":null},"y":{"datum":0.21402,"axis":null},"y2":{"datum":0.21735}}},
{"mark":{"type":"rule","color":"black","strokeWidth":1.5},
 "encoding":{"x":{"datum":88.5,"axis":null},"x2":{"datum":103.3},"y":{"datum":0.21573,"axis":null}}},
{"mark":{"type":"point","shape":"M -1 -0.72 L 0 0 L -1 0.72","filled":false,"stroke":"black","strokeWidth":1.5,"size":450,"opacity":1},
 "encoding":{"x":{"datum":103.3,"axis":null},"y":{"datum":0.21573,"axis":null}}},
{"mark":{"type":"text","text":"(CDF limit)","font":"Liberation Sans","fontSize":29,"align":"left","baseline":"alphabetic","color":"black"},
 "encoding":{"x":{"datum":110.6,"axis":null},"y":{"datum":0.21488,"axis":null}}},
{"mark":{"type":"rect","stroke":"black","strokeWidth":1.5,"fill":{"gradient":"linear","x1":0,"y1":0,"x2":1,"y2":0,"stops":[
{"offset":0.08,"color":"rgba(0,0,0,0)"},{"offset":0.08,"color":"#000"},{"offset":0.12,"color":"#000"},{"offset":0.12,"color":"rgba(0,0,0,0)"},
{"offset":0.28,"color":"rgba(0,0,0,0)"},{"offset":0.28,"color":"#000"},{"offset":0.32,"color":"#000"},{"offset":0.32,"color":"rgba(0,0,0,0)"},
{"offset":0.48,"color":"rgba(0,0,0,0)"},{"offset":0.48,"color":"#000"},{"offset":0.52,"color":"#000"},{"offset":0.52,"color":"rgba(0,0,0,0)"},
{"offset":0.68,"color":"rgba(0,0,0,0)"},{"offset":0.68,"color":"#000"},{"offset":0.72,"color":"#000"},{"offset":0.72,"color":"rgba(0,0,0,0)"},
{"offset":0.88,"color":"rgba(0,0,0,0)"},{"offset":0.88,"color":"#000"},{"offset":0.92,"color":"#000"},{"offset":0.92,"color":"rgba(0,0,0,0)"}
]}},
 "encoding":{"x":{"datum":63.6,"axis":null},"x2":{"datum":80.4},"y":{"datum":0.26798,"axis":null},"y2":{"datum":0.26391}}},
{"mark":{"type":"rect","stroke":"black","strokeWidth":1.5,"fill":"#444"},
 "encoding":{"x":{"datum":63.6,"axis":null},"x2":{"datum":80.4},"y":{"datum":0.26203,"axis":null},"y2":{"datum":0.25801}}},
{"mark":{"type":"rect","stroke":"black","strokeWidth":1.5,"fill":{"gradient":"linear","x1":0,"y1":0,"x2":1.1,"y2":0.912,"stops":[
{"offset":0.05,"color":"rgba(0,0,0,0)"},{"offset":0.05,"color":"#000"},{"offset":0.07,"color":"#000"},{"offset":0.07,"color":"rgba(0,0,0,0)"},
{"offset":0.1655,"color":"rgba(0,0,0,0)"},{"offset":0.1655,"color":"#000"},{"offset":0.1855,"color":"#000"},{"offset":0.1855,"color":"rgba(0,0,0,0)"},
{"offset":0.281,"color":"rgba(0,0,0,0)"},{"offset":0.281,"color":"#000"},{"offset":0.301,"color":"#000"},{"offset":0.301,"color":"rgba(0,0,0,0)"},
{"offset":0.3965,"color":"rgba(0,0,0,0)"},{"offset":0.3965,"color":"#000"},{"offset":0.4165,"color":"#000"},{"offset":0.4165,"color":"rgba(0,0,0,0)"},
{"offset":0.512,"color":"rgba(0,0,0,0)"},{"offset":0.512,"color":"#000"},{"offset":0.532,"color":"#000"},{"offset":0.532,"color":"rgba(0,0,0,0)"},
{"offset":0.6275,"color":"rgba(0,0,0,0)"},{"offset":0.6275,"color":"#000"},{"offset":0.6475,"color":"#000"},{"offset":0.6475,"color":"rgba(0,0,0,0)"},
{"offset":0.743,"color":"rgba(0,0,0,0)"},{"offset":0.743,"color":"#000"},{"offset":0.763,"color":"#000"},{"offset":0.763,"color":"rgba(0,0,0,0)"},
{"offset":0.8585,"color":"rgba(0,0,0,0)"},{"offset":0.8585,"color":"#000"},{"offset":0.8785,"color":"#000"},{"offset":0.8785,"color":"rgba(0,0,0,0)"}
]}},
 "encoding":{"x":{"datum":63.6,"axis":null},"x2":{"datum":80.4},"y":{"datum":0.25607,"axis":null},"y2":{"datum":0.25199}}},
{"mark":{"type":"text","text":"M","font":"Liberation Sans","fontSize":30,"align":"left","baseline":"alphabetic","color":"black"},
 "encoding":{"x":{"datum":84,"axis":null},"y":{"datum":0.26433,"axis":null}}},
{"mark":{"type":"text","text":"w","font":"Liberation Sans","fontSize":14,"fontWeight":"bold","dx":25,"dy":3,"align":"left","baseline":"alphabetic","color":"black"},
 "encoding":{"x":{"datum":84,"axis":null},"y":{"datum":0.26433,"axis":null}}},
{"mark":{"type":"text","text":"/M","font":"Liberation Sans","fontSize":30,"dx":36,"align":"left","baseline":"alphabetic","color":"black"},
 "encoding":{"x":{"datum":84,"axis":null},"y":{"datum":0.26433,"axis":null}}},
{"mark":{"type":"text","text":"z","font":"Liberation Sans","fontSize":14,"fontWeight":"bold","dx":69,"dy":3,"align":"left","baseline":"alphabetic","color":"black"},
 "encoding":{"x":{"datum":84,"axis":null},"y":{"datum":0.26433,"axis":null}}},
{"mark":{"type":"text","text":"(CDF+UA2+CDHS+CHARM)","font":"Liberation Sans","fontSize":30,"dx":85,"align":"left","baseline":"alphabetic","color":"black"},
 "encoding":{"x":{"datum":84,"axis":null},"y":{"datum":0.26433,"axis":null}}},
{"mark":{"type":"text","text":"M","font":"Liberation Sans","fontSize":30,"align":"left","baseline":"alphabetic","color":"black"},
 "encoding":{"x":{"datum":84,"axis":null},"y":{"datum":0.25892,"axis":null}}},
{"mark":{"type":"text","text":"z","font":"Liberation Sans","fontSize":14,"fontWeight":"bold","dx":25,"dy":3,"align":"left","baseline":"alphabetic","color":"black"},
 "encoding":{"x":{"datum":84,"axis":null},"y":{"datum":0.25892,"axis":null}}},
{"mark":{"type":"text","text":"(LEP)","font":"Liberation Sans","fontSize":30,"dx":41,"align":"left","baseline":"alphabetic","color":"black"},
 "encoding":{"x":{"datum":84,"axis":null},"y":{"datum":0.25892,"axis":null}}},
{"mark":{"type":"text","text":"sin²Θ","font":"Liberation Sans","fontSize":30,"align":"left","baseline":"alphabetic","color":"black"},
 "encoding":{"x":{"datum":84,"axis":null},"y":{"datum":0.25297,"axis":null}}},
{"mark":{"type":"text","text":"w","font":"Liberation Sans","fontSize":14,"fontWeight":"bold","dx":72,"dy":3,"align":"left","baseline":"alphabetic","color":"black"},
 "encoding":{"x":{"datum":84,"axis":null},"y":{"datum":0.25297,"axis":null}}},
{"mark":{"type":"text","text":"(M","font":"Liberation Sans","fontSize":30,"dx":83,"align":"left","baseline":"alphabetic","color":"black"},
 "encoding":{"x":{"datum":84,"axis":null},"y":{"datum":0.25297,"axis":null}}},
{"mark":{"type":"text","text":"z","font":"Liberation Sans","fontSize":14,"fontWeight":"bold","dx":118,"dy":3,"align":"left","baseline":"alphabetic","color":"black"},
 "encoding":{"x":{"datum":84,"axis":null},"y":{"datum":0.25297,"axis":null}}},
{"mark":{"type":"text","text":") (LEP)","font":"Liberation Sans","fontSize":30,"dx":125,"align":"left","baseline":"alphabetic","color":"black"},
 "encoding":{"x":{"datum":84,"axis":null},"y":{"datum":0.25297,"axis":null}}},
{"mark":{"type":"text","text":"M","font":"Liberation Sans","fontSize":30,"align":"left","baseline":"alphabetic","color":"black"},
 "encoding":{"x":{"datum":239.07,"axis":null},"y":{"datum":0.27402,"axis":null}}},
{"mark":{"type":"text","text":"higgs","font":"Liberation Sans","fontSize":15,"fontWeight":"bold","dx":25,"dy":5,"align":"left","baseline":"alphabetic","color":"black"},
 "encoding":{"x":{"datum":239.07,"axis":null},"y":{"datum":0.27402,"axis":null}}},
{"mark":{"type":"text","text":"= 200 GeV","font":"Liberation Sans","fontSize":30,"dx":73,"align":"left","baseline":"alphabetic","color":"black"},
 "encoding":{"x":{"datum":239.07,"axis":null},"y":{"datum":0.27402,"axis":null}}},
{"mark":{"type":"text","text":"M","font":"Liberation Sans","fontSize":28,"align":"left","baseline":"alphabetic","color":"black"},
 "encoding":{"x":{"datum":178.7,"axis":null},"y":{"datum":0.20327,"axis":null}}},
{"mark":{"type":"text","text":"TOP","font":"Liberation Sans","fontSize":11,"fontWeight":"bold","dx":24,"align":"left","baseline":"alphabetic","color":"black"},
 "encoding":{"x":{"datum":178.7,"axis":null},"y":{"datum":0.20327,"axis":null}}},
{"mark":{"type":"text","text":"(GeV)","font":"Liberation Sans","fontSize":28,"dx":48,"align":"left","baseline":"alphabetic","color":"black"},
 "encoding":{"x":{"datum":178.7,"axis":null},"y":{"datum":0.20327,"axis":null}}},
{"mark":{"type":"text","text":"sin²Θ","font":"Liberation Sans","fontSize":30,"angle":270,"align":"left","baseline":"alphabetic","color":"black"},
 "encoding":{"x":{"datum":13.23,"axis":null},"y":{"datum":0.23468,"axis":null}}},
{"mark":{"type":"text","text":"w","font":"Liberation Sans","fontSize":14,"fontWeight":"bold","angle":270,"dx":72,"dy":3,"align":"left","baseline":"alphabetic","color":"black"},
 "encoding":{"x":{"datum":13.23,"axis":null},"y":{"datum":0.23468,"axis":null}}},
{"mark":{"type":"text","text":"(M","font":"Liberation Sans","fontSize":30,"angle":270,"dx":83,"align":"left","baseline":"alphabetic","color":"black"},
 "encoding":{"x":{"datum":13.23,"axis":null},"y":{"datum":0.23468,"axis":null}}},
{"mark":{"type":"text","text":"z","font":"Liberation Sans","fontSize":14,"fontWeight":"bold","angle":270,"dx":118,"dy":3,"align":"left","baseline":"alphabetic","color":"black"},
 "encoding":{"x":{"datum":13.23,"axis":null},"y":{"datum":0.23468,"axis":null}}},
{"mark":{"type":"text","text":")","font":"Liberation Sans","fontSize":30,"angle":270,"dx":125,"align":"left","baseline":"alphabetic","color":"black"},
 "encoding":{"x":{"datum":13.23,"axis":null},"y":{"datum":0.23468,"axis":null}}}
]
}
